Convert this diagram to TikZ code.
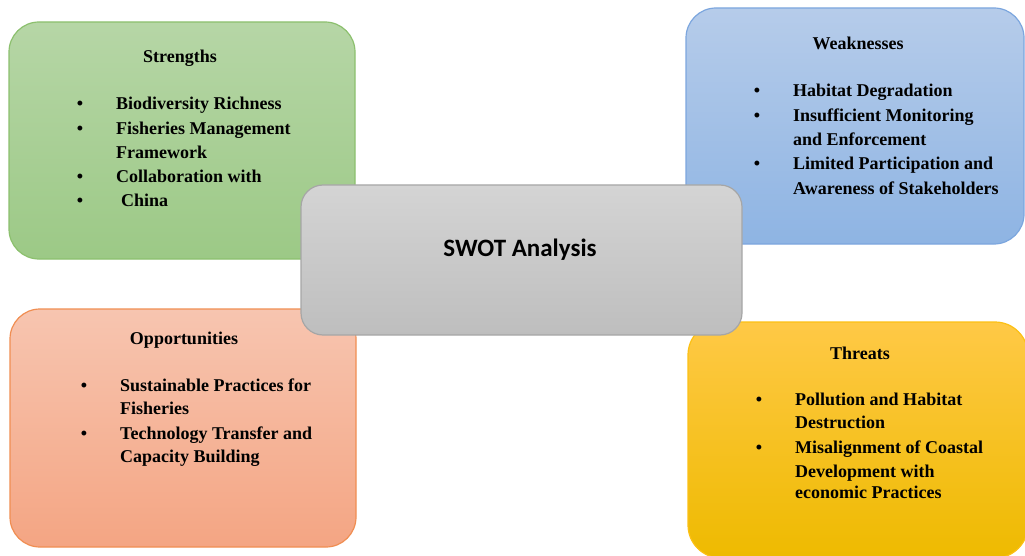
\documentclass[tikz,border=0pt]{standalone}
\usepackage{fontspec}
\setmainfont{Liberation Serif}
\newfontfamily\calibrifont{Carlito}
\usetikzlibrary{positioning}
\definecolor{greentop}{RGB}{182,214,166}
\definecolor{greenbot}{RGB}{156,201,134}
\definecolor{greenline}{RGB}{140,192,110}
\definecolor{bluetop}{RGB}{182,204,234}
\definecolor{bluebot}{RGB}{142,180,227}
\definecolor{blueline}{RGB}{124,166,222}
\definecolor{salmontop}{RGB}{247,197,176}
\definecolor{salmonbot}{RGB}{244,165,131}
\definecolor{salmonline}{RGB}{240,142,82}
\definecolor{goldtop}{RGB}{255,201,70}
\definecolor{goldbot}{RGB}{238,186,0}
\definecolor{goldline}{RGB}{252,192,20}
\definecolor{greytop}{RGB}{212,212,212}
\definecolor{greybot}{RGB}{190,190,190}
\definecolor{greyline}{RGB}{166,166,166}

\tikzset{
  card/.style={draw, line width=1.2pt, rounded corners=30pt, inner sep=0pt},
  heading/.style={font=\bfseries\fontsize{18}{21}\selectfont, inner sep=0pt, anchor=base},
  item/.style={font=\bfseries\fontsize{18}{21}\selectfont, inner sep=0pt, anchor=base west},
  dot/.style={font=\bfseries\fontsize{18}{21}\selectfont, inner sep=0pt, anchor=base},
}

\begin{document}
\begin{tikzpicture}[x=1pt,y=-1pt]
    \useasboundingbox (0,0) rectangle (1025,556);
    \clip (0,0) rectangle (1025,556);
    % the four quadrants
    \node[card, top color=greentop, bottom color=greenbot, draw=greenline,
      minimum width=346pt, minimum height=237pt] (strengths) at (182,140.5) {};
    \node[card, top color=bluetop, bottom color=bluebot, draw=blueline,
      minimum width=338pt, minimum height=236pt] (weaknesses) at (855,126) {};
    \node[card, top color=salmontop, bottom color=salmonbot, draw=salmonline,
      minimum width=346pt, minimum height=238pt] (opportunities) at (183,428) {};
    \node[card, rounded corners=33pt, top color=goldtop, bottom color=goldbot, draw=goldline,
      minimum width=340pt, minimum height=236pt] (threats) at (858,440) {};
    % strengths
    \node[heading] (s-head) at (180,63) {Strengths};
    \foreach \x/\y/\t [count=\n] in {116/110/Biodiversity Richness,
        116/135/Fisheries Management, 116/159/Framework,
        116/183/Collaboration with, 121/207/China}
      \node[item] (s-item-\n) at (\x,\y) {\t};
    \foreach \y in {110,135,183,207}
      \node[dot] (s-dot-\y) at (80,\y) {\textbullet};
    % weaknesses
    \node[heading] (w-head) at (858,50) {Weaknesses};
    \foreach \y/\t [count=\n] in {97/Habitat Degradation,
        122/Insufficient Monitoring, 146/and Enforcement,
        170/Limited Participation and, 195/Awareness of Stakeholders}
      \node[item] (w-item-\n) at (793,\y) {\t};
    \foreach \y in {97,122,170}
      \node[dot] (w-dot-\y) at (757,\y) {\textbullet};
    % opportunities
    \node[heading] (o-head) at (184,344) {Opportunities};
    \foreach \y/\t [count=\n] in {391/Sustainable Practices for,
        414/Fisheries, 439/Technology Transfer and,
        462/Capacity Building}
      \node[item] (o-item-\n) at (120,\y) {\t};
    \foreach \y in {391,439}
      \node[dot] (o-dot-\y) at (84,\y) {\textbullet};
    % threats
    \node[heading] (t-head) at (860,359) {Threats};
    \foreach \y/\t [count=\n] in {405/Pollution and Habitat,
        428/Destruction, 453/Misalignment of Coastal,
        477/Development with, 498/economic Practices}
      \node[item] (t-item-\n) at (795,\y) {\t};
    \foreach \y in {405,453}
      \node[dot] (t-dot-\y) at (759,\y) {\textbullet};
    % centre box on top
    \node[card, rounded corners=22pt, top color=greytop, bottom color=greybot,
      draw=greyline, minimum width=441pt, minimum height=150pt] (swot) at (521.5,260) {};
    \node[font=\calibrifont\bfseries\fontsize{25}{30}\selectfont, inner sep=0pt]
      (swot-label) at (520,250) {SWOT Analysis};
\end{tikzpicture}
\end{document}
